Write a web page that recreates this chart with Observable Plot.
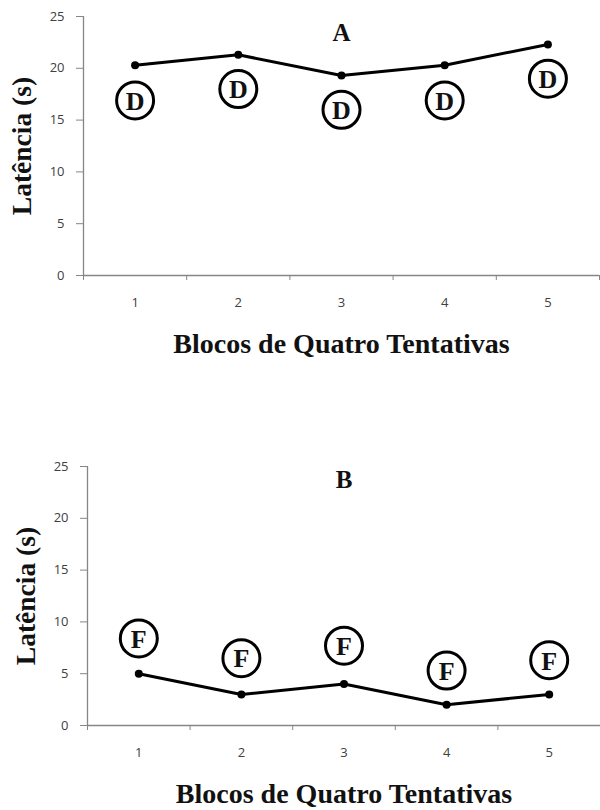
<!DOCTYPE html>
<html>
<head>
<meta charset="utf-8">
<script src="https://cdn.jsdelivr.net/npm/d3@7"></script>
<script src="https://cdn.jsdelivr.net/npm/@observablehq/plot@0.6"></script>
<style>
  html, body { margin: 0; padding: 0; background: #fff; }
  #chart svg { display: block; background: #fff; }
</style>
</head>
<body>
<div id="chart"></div>
<script>
// Data
const blocos = [1, 2, 3, 4, 5];
const latenciaA = [20.3, 21.3, 19.3, 20.3, 22.3];
const marcadorA = [16.9, 18.0, 16.0, 16.9, 19.0];   // where the "D" circles sit (s)
const latenciaB = [5, 3, 4, 2, 3];
const marcadorB = [8.4, 6.5, 7.7, 5.3, 6.3];        // where the "F" circles sit (s)
const yTicks = [0, 5, 10, 15, 20, 25];
const xBounds = [0.5, 1.5, 2.5, 3.5, 4.5, 5.5];
const xTitle = "Blocos de Quatro Tentativas";
const yTitle = "Latência (s)";

const serif = "'Liberation Serif', 'Times New Roman', serif";
const sans = "'Open Sans', 'DejaVu Sans', sans-serif";
const axisGray = "#868686";

function panel({values, markers, letter, panelLabel, marginTop, marginBottom, marginLeft, marginRight, labelDy}) {
  return Plot.plot({
    width: 600,
    height: 405,
    marginTop, marginBottom, marginLeft, marginRight,
    x: {domain: [0.5, 5.5]},
    y: {domain: [0, 25]},
    style: {background: "#fff", overflow: "visible"},
    marks: [
      Plot.ruleX([0.5], {stroke: axisGray, strokeWidth: 1.3}),
      Plot.ruleY([0], {stroke: axisGray, strokeWidth: 1.3}),
      Plot.axisY({ticks: yTicks, tickSize: 7, tickPadding: 12, stroke: axisGray, fill: "#404040",
                  fontSize: 13, fontFamily: sans, label: null, tickFormat: d => String(d)}),
      Plot.axisX({ticks: xBounds, tickSize: 5, tickFormat: () => "", stroke: axisGray, label: null}),
      Plot.axisX({ticks: blocos, tickSize: 0, tickPadding: 22, fill: "#404040",
                  fontSize: 13, fontFamily: sans, label: null, tickFormat: d => String(d)}),
      Plot.line(blocos, {x: d => d, y: (d, i) => values[i], stroke: "black", strokeWidth: 3}),
      Plot.dot(blocos, {x: d => d, y: (d, i) => values[i], r: 4, fill: "black"}),
      Plot.dot(blocos, {x: d => d, y: (d, i) => markers[i], r: 18.5, stroke: "black", strokeWidth: 3, fill: "white"}),
      Plot.text(blocos, {x: d => d, y: (d, i) => markers[i], text: () => letter, fontSize: 26,
                         fontWeight: "bold", fontFamily: serif, fill: "#111", dy: 1}),
      Plot.text([panelLabel], {frameAnchor: "top", text: d => d, dy: labelDy, fontSize: 25,
                               lineAnchor: "middle", textAnchor: "middle",
                               fontWeight: "bold", fontFamily: serif, fill: "#111"}),
      Plot.text([xTitle], {frameAnchor: "bottom", text: d => d, dy: 69, fontSize: 28,
                           lineAnchor: "middle", textAnchor: "middle",
                           fontWeight: "bold", fontFamily: serif, fill: "#111"}),
      Plot.text([yTitle], {frameAnchor: "left", text: d => d, rotate: -90, dx: -61, fontSize: 27.5,
                           lineAnchor: "middle", textAnchor: "middle",
                           fontWeight: "bold", fontFamily: serif, fill: "#111"})
    ]
  });
}

const root = document.getElementById("chart");
root.appendChild(panel({values: latenciaA, markers: marcadorA, letter: "D", panelLabel: "A",
  marginTop: 16, marginBottom: 130, marginLeft: 83, marginRight: 1, labelDy: 16}));
root.appendChild(panel({values: latenciaB, markers: marcadorB, letter: "F", panelLabel: "B",
  marginTop: 61, marginBottom: 85, marginLeft: 87, marginRight: 0, labelDy: 13}));
</script>
</body>
</html>
